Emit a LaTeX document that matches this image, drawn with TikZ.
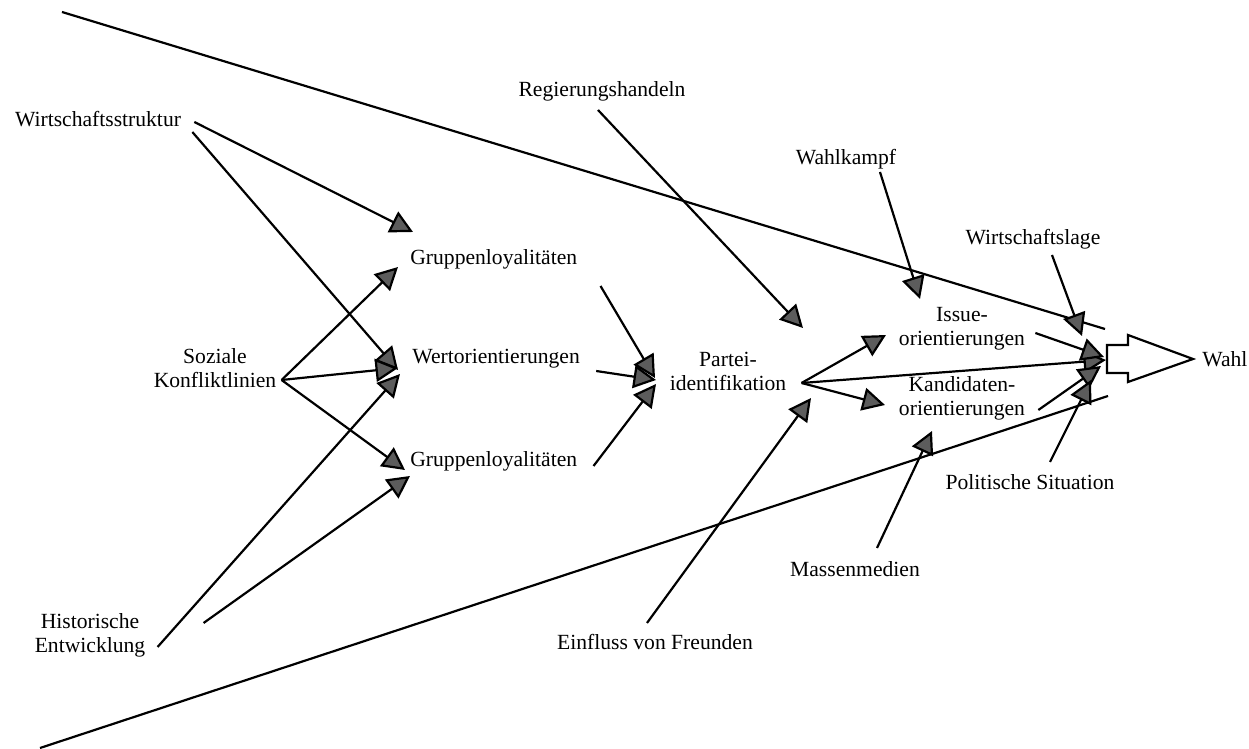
\documentclass[tikz,border=0pt]{standalone}
\usepackage{fontspec}
\setmainfont{Liberation Serif}
\usepackage{tikz}
\usetikzlibrary{arrows.meta}
\newcommand{\pfeillaenge}{0.45cm}
\newcommand{\pfeilbreite}{0.46cm}
\newcommand{\schrift}{\fontsize{12.3}{13.7}\selectfont}
\definecolor{spitzengrau}{gray}{0.36}
\tikzset{
	etikett/.style={inner sep=0pt, font=\schrift},
	zweizeilig/.style={etikett, align=center},
	pfeil/.style={line width=1.25pt, -{Triangle[length=\pfeillaenge, width=\pfeilbreite, fill=spitzengrau]}},
	trichter/.style={line width=1.25pt}
}

\begin{document}
\begin{tikzpicture}[x=0.02cm, y=-0.02cm]
	\useasboundingbox (0,0) rectangle (1249,749);
	% The funnel:
	\draw[trichter] (62,12) -- (1105,329);
	\draw[trichter] (40,748) -- (1108,396);
	% Labels:
	\path
		(98,127) node[etikett, anchor=base] (wirt) {Wirtschaftsstruktur}
		(215,368) node[zweizeilig] (soz) {Soziale\\Konfliktlinien}
		(90,635) node[zweizeilig] (hist) {Historische\\Entwicklung}
		(410,265) node[etikett, anchor=base west] (grupO) {Gruppenloyalitäten}
		(412,364) node[etikett, anchor=base west] (wert) {Wertorientierungen}
		(410,467) node[etikett, anchor=base west] (grupU) {Gruppenloyalitäten}
		(602,97) node[etikett, anchor=base] (reg) {Regierungshandeln}
		(728,371) node[zweizeilig] (partei) {Partei-\\identifikation}
		(655,650) node[etikett, anchor=base] (freunde) {Einfluss von Freunden}
		(846,165) node[etikett, anchor=base] (wk) {Wahlkampf}
		(962,329) node[zweizeilig] (issue) {Issue-\\orientierungen}
		(962,398) node[zweizeilig] (kand) {Kandidaten-\\orientierungen}
		(1033,245) node[etikett, anchor=base] (wlage) {Wirtschaftslage}
		(1030,490) node[etikett, anchor=base] (polsit) {Politische Situation}
		(855,577) node[etikett, anchor=base] (massen) {Massenmedien}
		(1202,367) node[etikett, anchor=base west] (wahl) {Wahl}
		;
	% Arrow tips:
	\coordinate (grupO-a) at (413,232);
	\coordinate (grupO-b) at (398,267);
	\coordinate (wert-a) at (398,370);
	\coordinate (wert-b) at (398,368);
	\coordinate (wert-c) at (400,374);
	\coordinate (grupU-a) at (405,470);
	\coordinate (grupU-b) at (410,476);
	\coordinate (partei-a) at (655,378);
	\coordinate (partei-b) at (656,380);
	\coordinate (partei-c) at (656,384);
	\coordinate (partei-d) at (803,328);
	\coordinate (partei-e) at (811,398);
	\coordinate (issue-a) at (886,335);
	\coordinate (issue-b) at (920,299);
	\coordinate (kand-a) at (885,405);
	\coordinate (kand-b) at (932,431);
	\coordinate (wahl-a) at (1106,360);
	\coordinate (wahl-b) at (1104,357);
	\coordinate (wahl-c) at (1101,366);
	\coordinate (wahl-d) at (1082,336);
	\coordinate (wahl-e) at (1091,380);
	% Left part:
	\draw[pfeil] ([shift={(13,-5)}]wirt.base east) -- (grupO-a);
	\draw[pfeil] ([shift={(11,5)}]wirt.base east) -- (wert-a);
	\draw[pfeil] ([shift={(5,12)}]soz.east) -- (grupO-b);
	\draw[pfeil] ([shift={(5,12)}]soz.east) -- (wert-b);
	\draw[pfeil] ([shift={(5,12)}]soz.east) -- (grupU-a);
	\draw[pfeil] ([shift={(12,12)}]hist.east) -- (wert-c);
	\draw[pfeil] ([shift={(58,-12)}]hist.east) -- (grupU-b);
	% Middle part:
	\draw[pfeil] ([shift={(23,21)}]grupO.base east) -- (partei-a);
	\draw[pfeil] ([shift={(16,7)}]wert.base east) -- (partei-b);
	\draw[pfeil] ([shift={(16,-1)}]grupU.base east) -- (partei-c);
	\draw[pfeil] ([shift={(-4,13)}]reg.base) -- (partei-d);
	\draw[pfeil] ([shift={(-8,-27)}]freunde.base) -- (partei-e);
	% Right part:
	\draw[pfeil] ([shift={(15,12)}]partei.east) -- (issue-a);
	\draw[pfeil] ([shift={(15,12)}]partei.east) -- (kand-a);
	\draw[pfeil] ([shift={(15,12)}]partei.east) -- (wahl-a);
	\draw[pfeil] ([shift={(34,7)}]wk.base) -- (issue-b);
	\draw[pfeil] ([shift={(22,-29)}]massen.base) -- (kand-b);
	\draw[pfeil] ([shift={(10,4)}]issue.east) -- (wahl-b);
	\draw[pfeil] ([shift={(13,12)}]kand.east) -- (wahl-c);
	\draw[pfeil] ([shift={(19,10)}]wlage.base) -- (wahl-d);
	\draw[pfeil] ([shift={(20,-28)}]polsit.base) -- (wahl-e);
	% Hollow arrow to Wahl:
	\draw[line width=1.25pt, fill=white]
		(1107,345) -- (1128,345) -- (1128,335) -- (1193,359)
		-- (1128,382) -- (1128,373) -- (1107,373) -- cycle;
\end{tikzpicture}
\end{document}
